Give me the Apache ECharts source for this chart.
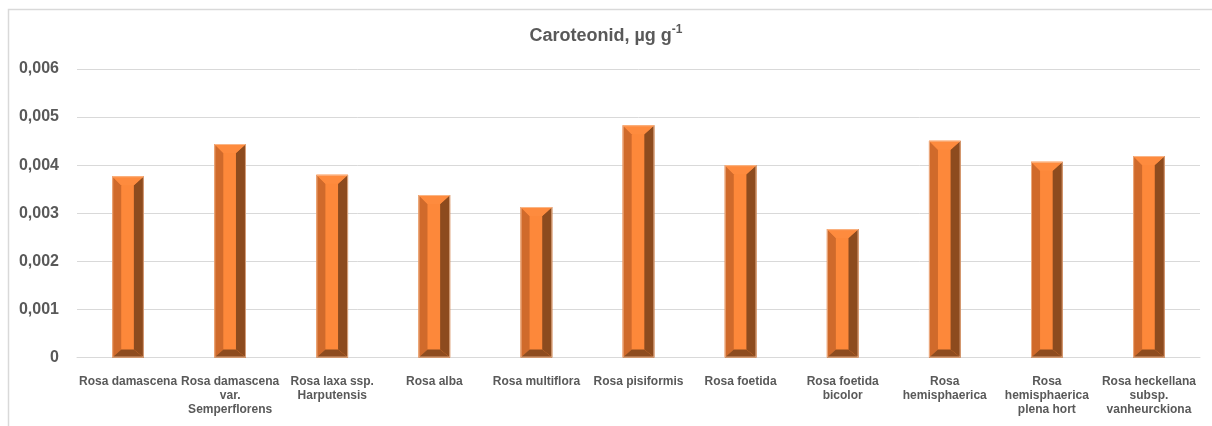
<!DOCTYPE html>
<html>
<head>
<meta charset="utf-8">
<script src="https://cdn.jsdelivr.net/npm/echarts@6/dist/echarts.min.js"></script>
<style>
html,body{margin:0;padding:0;background:#fff;}
#c{width:1212px;height:426px;}
</style>
</head>
<body>
<div id="c"></div>
<script>
const categories = [
  'Rosa damascena',
  'Rosa damascena\nvar.\nSemperflorens',
  'Rosa laxa ssp.\nHarputensis',
  'Rosa alba',
  'Rosa multiflora',
  'Rosa pisiformis',
  'Rosa foetida',
  'Rosa foetida\nbicolor',
  'Rosa\nhemisphaerica',
  'Rosa\nhemisphaerica\nplena hort',
  'Rosa heckellana\nsubsp.\nvanheurckiona'
];
const carotenoid = [0.00377, 0.00444, 0.00380, 0.00338, 0.00313, 0.00483, 0.00400, 0.00267, 0.00451, 0.00407, 0.00419];
const yTicks = [0, 0.001, 0.002, 0.003, 0.004, 0.005, 0.006];

const chart = echarts.init(document.getElementById('c'), null, {renderer: 'canvas'});
const textColor = '#595959';

function renderBevelBar(params, api) {
  const idx = api.value(0);
  const val = api.value(1);
  const p0 = api.coord([idx, 0]);
  const p1 = api.coord([idx, val]);
  const band = api.size([1, 0])[0];
  const w = band * 0.31;
  const x0 = p0[0] - w / 2, x1 = x0 + w;
  const yT = p1[1], yB = p0[1];
  const bl = 9, br = 10, bt = 9, bb = 8;
  return {
    type: 'group',
    children: [
      {type: 'rect', shape: {x: x0, y: yT, width: w, height: yB - yT}, style: {fill: '#FD883A'}},
      {type: 'polygon', shape: {points: [[x0, yT], [x0 + bl, yT + bt], [x0 + bl, yB - bb], [x0, yB]]}, style: {fill: '#D06A2B'}},
      {type: 'polygon', shape: {points: [[x1, yT], [x1 - br, yT + bt], [x1 - br, yB - bb], [x1, yB]]}, style: {fill: '#8D4B1E'}},
      {type: 'polygon', shape: {points: [[x0, yT], [x1, yT], [x1 - br, yT + bt], [x0 + bl, yT + bt]]}, style: {fill: '#FE8B3E'}},
      {type: 'polygon', shape: {points: [[x0, yB], [x1, yB], [x1 - br, yB - bb], [x0 + bl, yB - bb]]}, style: {fill: '#8E4C1F'}},
      {type: 'rect', shape: {x: x0 + 0.5, y: yT + 0.5, width: w - 1, height: yB - yT - 1}, style: {fill: 'none', stroke: 'rgba(248,200,165,0.7)', lineWidth: 1}}
    ]
  };
}

const option = {
  animation: false,
  backgroundColor: '#ffffff',
  graphic: [{
    type: 'rect', left: 6, top: 7, z: -10,
    shape: {width: 1230, height: 440},
    style: {fill: 'none', stroke: '#D9D9D9', lineWidth: 1.5}
  }],
  title: {
    text: '{t|Caroteonid, µg g}{s|-1}',
    left: 'center',
    top: 20,
    textStyle: {
      rich: {
        t: {fontFamily: 'Liberation Sans', fontWeight: 'bold', fontSize: 18, color: textColor, verticalAlign: 'bottom', lineHeight: 20},
        s: {fontFamily: 'Liberation Sans', fontWeight: 'bold', fontSize: 12, color: textColor, verticalAlign: 'bottom', lineHeight: 12, padding: [0, 0, 9, 0]}
      }
    }
  },
  grid: {left: 77, right: 12, top: 69, bottom: 68.5, containLabel: false},
  xAxis: {
    type: 'category',
    data: categories,
    axisLine: {show: true, lineStyle: {color: '#D9D9D9', width: 1}},
    axisTick: {show: false},
    axisLabel: {
      interval: 0,
      color: textColor,
      fontFamily: 'Liberation Sans',
      fontWeight: 'bold',
      fontSize: 12,
      lineHeight: 14,
      margin: 17,
      align: 'center'
    }
  },
  yAxis: {
    type: 'value',
    min: 0,
    max: 0.006,
    interval: 0.001,
    axisLine: {show: false},
    axisTick: {show: false},
    splitLine: {lineStyle: {color: '#D9D9D9', width: 1}},
    axisLabel: {
      color: textColor,
      fontFamily: 'Liberation Sans',
      fontWeight: 'bold',
      fontSize: 16,
      margin: 18,
      formatter: function (v) {
        const t = yTicks.find(x => Math.abs(x - v) < 1e-9);
        if (t === 0) return '0';
        return (t !== undefined ? t : v).toFixed(3).replace('.', ',');
      }
    }
  },
  series: [{
    type: 'custom',
    renderItem: renderBevelBar,
    encode: {x: 0, y: 1},
    data: carotenoid.map((v, i) => [i, v])
  }]
};
chart.setOption(option);
</script>
</body>
</html>
